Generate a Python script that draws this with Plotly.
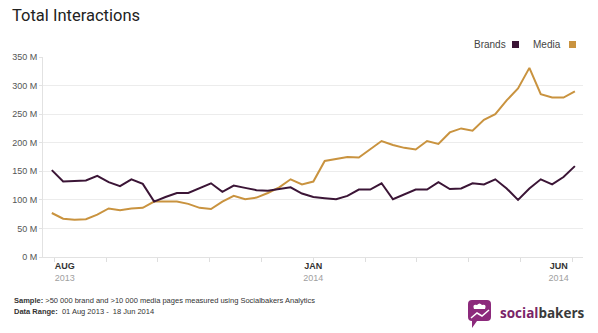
import plotly.graph_objects as go
import pandas as pd

# ---- data (values in millions) ----
week_start = "2013-07-24"
n_weeks = 47
brands = [152, 132, 133, 134, 142, 131, 124, 136, 128, 97,
          105, 112, 112, 121, 129, 114, 125, 121, 117, 116,
          119, 122, 111, 105, 103, 101, 107, 118, 118, 129,
          101, 110, 118, 118, 131, 119, 120, 129, 127, 136,
          120, 100, 120, 136, 127, 140, 159]
media = [77, 67, 65, 66, 74, 85, 82, 85, 86, 97,
         97, 97, 93, 86, 84, 97, 107, 101, 104, 112,
         122, 136, 127, 132, 168, 172, 175, 174, 189, 203,
         196, 191, 188, 203, 198, 218, 225, 221, 240, 250,
         274, 295, 331, 285, 279, 279, 290]
tick_dates = ["2013-08-01", "2014-01-01", "2014-06-01"]
tick_months = ["AUG", "JAN", "JUN"]
tick_years = ["2013", "2014", "2014"]
series_names = ["Brands", "Media"]

dates = pd.date_range(week_start, periods=n_weeks, freq="7D")

BRAND_C = "#3b1536"
MEDIA_C = "#c9933f"
FONT = "Liberation Sans, Arial, sans-serif"

# plot area in pixels (for placing annotations)
L, R, T, B = 43, 583, 57, 257
def px(x):
    return (x - L) / (R - L)
def py(y):
    return (B - y) / (B - T)

fig = go.Figure()
fig.add_trace(go.Scatter(x=dates, y=media, mode="lines", name=series_names[1],
                         line=dict(color=MEDIA_C, width=2)))
fig.add_trace(go.Scatter(x=dates, y=brands, mode="lines", name=series_names[0],
                         line=dict(color=BRAND_C, width=2)))

ticktext = [f"<b>{m}</b><br><span style='color:#a0a0a0'>{y}</span>"
            for m, y in zip(tick_months, tick_years)]

fig.update_layout(
    width=598, height=333,
    margin=dict(l=L, r=598 - R, t=T, b=333 - B),
    paper_bgcolor="white", plot_bgcolor="white",
    showlegend=False,
    font=dict(family=FONT, color="#444"),
    title=dict(text="Total Interactions", x=12 / 598, xanchor="left",
               xref="container", y=1 - 15 / 333, yanchor="middle",
               yref="container",
               font=dict(family="Roboto, Arial, sans-serif", size=16.5, color="#222")),
    xaxis=dict(type="date",
               range=["2013-07-18 14:00", "2014-06-16"],
               tickvals=tick_dates, ticktext=ticktext,
               tickfont=dict(size=9, color="#333", family=FONT),
               ticks="", showgrid=False, zeroline=False,
               showline=True, linecolor="#e2e2e2", linewidth=1,
               minor=dict(ticks="outside", ticklen=4, tickcolor="#dedede",
                          dtick=31.9 * 86400000, tick0="2014-01-01",
                          showgrid=False)),
    yaxis=dict(range=[0, 350], dtick=50, ticksuffix=" M",
               tickfont=dict(size=9, color="#555", family=FONT),
               showgrid=True, gridcolor="#ececec", gridwidth=1,
               zeroline=False, showline=True, linecolor="#e2e2e2",
               ticks="outside", ticklen=3, tickcolor="#e2e2e2"),
)

# legend: label followed by a coloured square, as in the reference
for name, color, text_right, sq_left in [(series_names[0], BRAND_C, 508, 512),
                                         (series_names[1], MEDIA_C, 563, 569)]:
    fig.add_annotation(xref="paper", yref="paper", x=px(text_right), y=py(44.5),
                       xanchor="right", yanchor="middle", showarrow=False,
                       text=name, font=dict(size=10, color="#444", family=FONT))
    fig.add_shape(type="rect", xref="paper", yref="paper",
                  x0=px(sq_left), x1=px(sq_left + 7), y0=py(41), y1=py(48),
                  fillcolor=color, line=dict(width=0))

# footer notes
fig.add_annotation(
    xref="paper", yref="paper", x=px(12), y=py(300), xanchor="left",
    yanchor="middle", showarrow=False, align="left",
    text="<b>Sample:</b> >50 000 brand and >10 000 media pages measured using Socialbakers Analytics",
    font=dict(size=7.5, color="#333", family=FONT))
fig.add_annotation(
    xref="paper", yref="paper", x=px(12), y=py(311), xanchor="left",
    yanchor="middle", showarrow=False, align="left",
    text="<b>Data Range:</b>  01 Aug 2013 -  18 Jun 2014",
    font=dict(size=7.5, color="#333", family=FONT))

# logo: icon + wordmark
x0, x1, y0, y1 = px(468), px(491), py(300), py(321)
rx, ry = px(472) - px(468), py(300) - py(304)
icon_path = (f"M {x0+rx},{y0} L {x1-rx},{y0} Q {x1},{y0} {x1},{y0-ry} "
             f"L {x1},{y1+ry} Q {x1},{y1} {x1-rx},{y1} "
             f"L {px(477)},{y1} L {px(472)},{py(328)} L {px(472)},{y1} "
             f"Q {x0},{y1} {x0},{y1+ry} L {x0},{y0-ry} Q {x0},{y0} {x0+rx},{y0} Z")
fig.add_shape(type="path", xref="paper", yref="paper", path=icon_path,
              fillcolor="#8c2a7c", line=dict(width=0))
hat = (f"M {px(474)},{py(309)} Q {px(472)},{py(304)} {px(477)},{py(305)} "
       f"Q {px(479.5)},{py(302)} {px(482)},{py(305)} Q {px(487)},{py(304)} {px(485)},{py(309)} Z")
fig.add_shape(type="path", xref="paper", yref="paper", path=hat,
              fillcolor="white", line=dict(width=0))
fig.add_shape(type="path", xref="paper", yref="paper",
              path=f"M {px(471)},{py(318)} L {px(477)},{py(313)} L {px(482)},{py(316)} L {px(489)},{py(310)}",
              line=dict(color="white", width=1.5))
fig.add_annotation(
    xref="paper", yref="paper", x=px(498), y=py(313), xanchor="left",
    yanchor="middle", showarrow=False,
    text="<b><span style='color:#7a2468'>social</span><span style='color:#3a3a3a'>bakers</span></b>",
    font=dict(size=13.5, family="Open Sans, Arial, sans-serif"))

fig.write_html("out.html")
